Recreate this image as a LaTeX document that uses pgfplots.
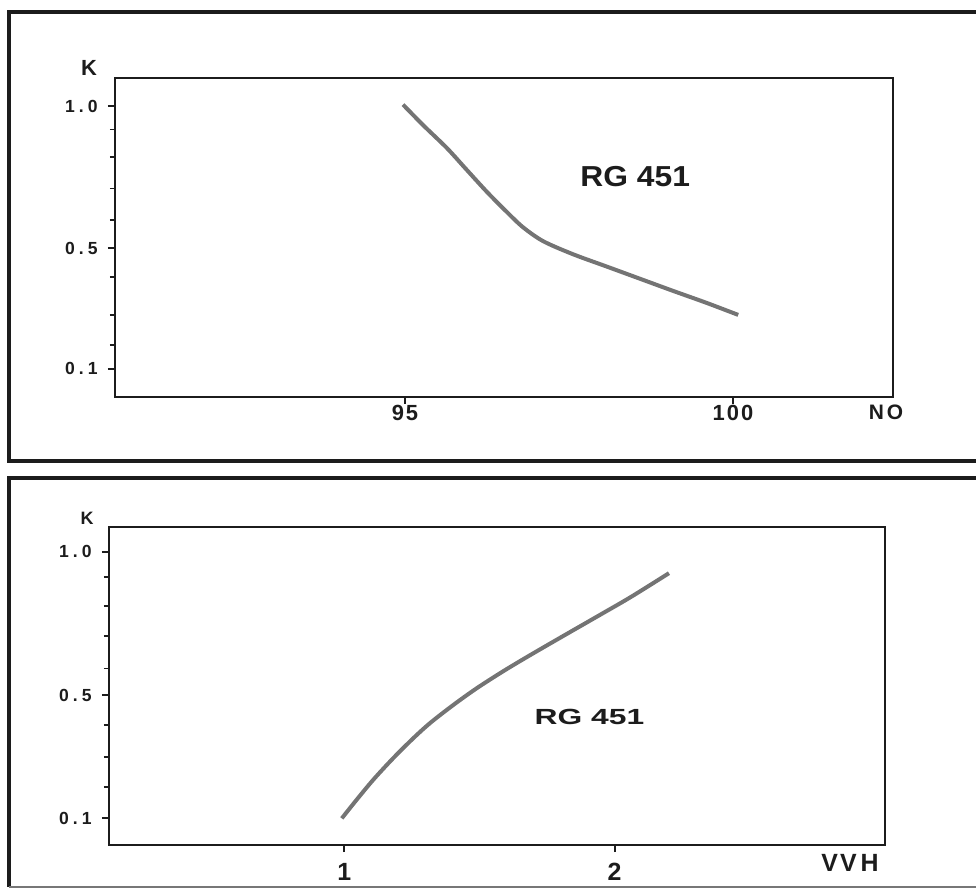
\documentclass[border=0pt]{standalone}
\usepackage{fontspec}
\setmainfont{Liberation Sans}
\usepackage{graphicx}
\usepackage{pgfplots}
\pgfplotsset{compat=1.18}
\definecolor{ink}{HTML}{1C1C1C}
\definecolor{trace}{HTML}{747474}
\newcommand{\lsp}{\kern2bp}
\pgfplotsset{
  scan axis/.style={
    scale only axis,
    anchor=south west,
    axis line style={ink, line width=0.9bp},
    tick align=outside,
    xtick pos=bottom, ytick pos=left,
    major tick length=3.5bp, minor tick length=2.5bp,
    tick style={ink, line width=0.9bp},
    yticklabel style={font=\fontsize{8.8}{9}\selectfont\bfseries, ink, inner sep=0pt, xshift=-5bp},
    yticklabels={0\lsp.\lsp1,0\lsp.\lsp5,1\lsp.\lsp0},
    clip=false,
  },
}
\begin{document}
\begin{tikzpicture}
  \path[use as bounding box] (0,0) rectangle (488bp,446bp);

  % panel frames
  \draw[ink, line width=2bp] (490bp,440bp) -- (4.5bp,440bp) -- (4.5bp,215.5bp) -- (490bp,215.5bp);
  \draw[ink, line width=2bp] (490bp,207bp) -- (4.5bp,207bp) -- (4.5bp,2.5bp);
  \draw[ink!60, line width=1bp] (4.5bp,2.5bp) -- (490bp,2.5bp);

  % ===== upper panel: K against NO =====
  \begin{axis}[
    scan axis,
    at={(57.5bp,247.5bp)},
    width=389bp, height=159.5bp,
    xmin=90.58, xmax=102.44,
    ymin=0.004, ymax=1.096,
    xtick={95,100}, xticklabels={9\kern1bp 5,1\kern1bp 0\kern1bp 0},
    xticklabel style={font=\fontsize{11}{12}\selectfont\bfseries, ink, yshift=3bp},
    ytick={0.1,0.513,1.0},
    minor ytick={0.182,0.285,0.416,0.610,0.718,0.826,0.920},
  ]
    \addplot[trace, line width=2bp, smooth] coordinates {
      (94.97,1.005) (95.28,0.934) (95.64,0.856) (95.94,0.782)
      (96.25,0.706) (96.55,0.638) (96.80,0.585) (97.11,0.537)
      (97.57,0.492) (98.07,0.451) (98.58,0.409) (99.09,0.367)
      (99.60,0.326) (100.08,0.285)
    };
    \node[font=\fontsize{14.5}{16}\selectfont\bfseries, ink] at (axis cs:98.51,0.760) {\scalebox{1.1}[1]{RG 451}};
  \end{axis}
  \node[font=\fontsize{11}{12}\selectfont\bfseries, ink] at (44.5bp,412bp) {K};
  \node[font=\fontsize{10.5}{12}\selectfont\bfseries, ink] at (443bp,240bp) {N\kern1.5bp O};

  % ===== lower panel: K against VVH =====
  \begin{axis}[
    scan axis,
    at={(54.5bp,23.5bp)},
    width=388bp, height=159bp,
    xmin=0.13, xmax=3.0,
    ymin=0.010, ymax=1.084,
    xtick={1,2}, xticklabels={1,2},
    xticklabel style={font=\fontsize{12.5}{13}\selectfont\bfseries, ink, yshift=-2bp},
    ytick={0.1,0.516,1.0},
    minor ytick={0.205,0.308,0.415,0.606,0.716,0.817,0.916},
  ]
    \addplot[trace, line width=2bp, smooth] coordinates {
      (0.991,0.100) (1.047,0.164) (1.109,0.232) (1.183,0.305)
      (1.257,0.372) (1.319,0.423) (1.405,0.484) (1.491,0.540)
      (1.590,0.598) (1.689,0.652) (1.812,0.717) (1.936,0.782)
      (2.059,0.847) (2.201,0.928)
    };
    \node[font=\fontsize{11}{12}\selectfont\bfseries, ink] at (axis cs:1.907,0.442) {\scalebox{1.45}[1]{RG 451}};
  \end{axis}
  \node[font=\fontsize{9}{10}\selectfont\bfseries, ink] at (43.5bp,187bp) {K};
  \node[font=\fontsize{12.5}{13}\selectfont\bfseries, ink] at (425bp,14.5bp) {V\kern1bp V\kern2bp H};
\end{tikzpicture}
\end{document}
